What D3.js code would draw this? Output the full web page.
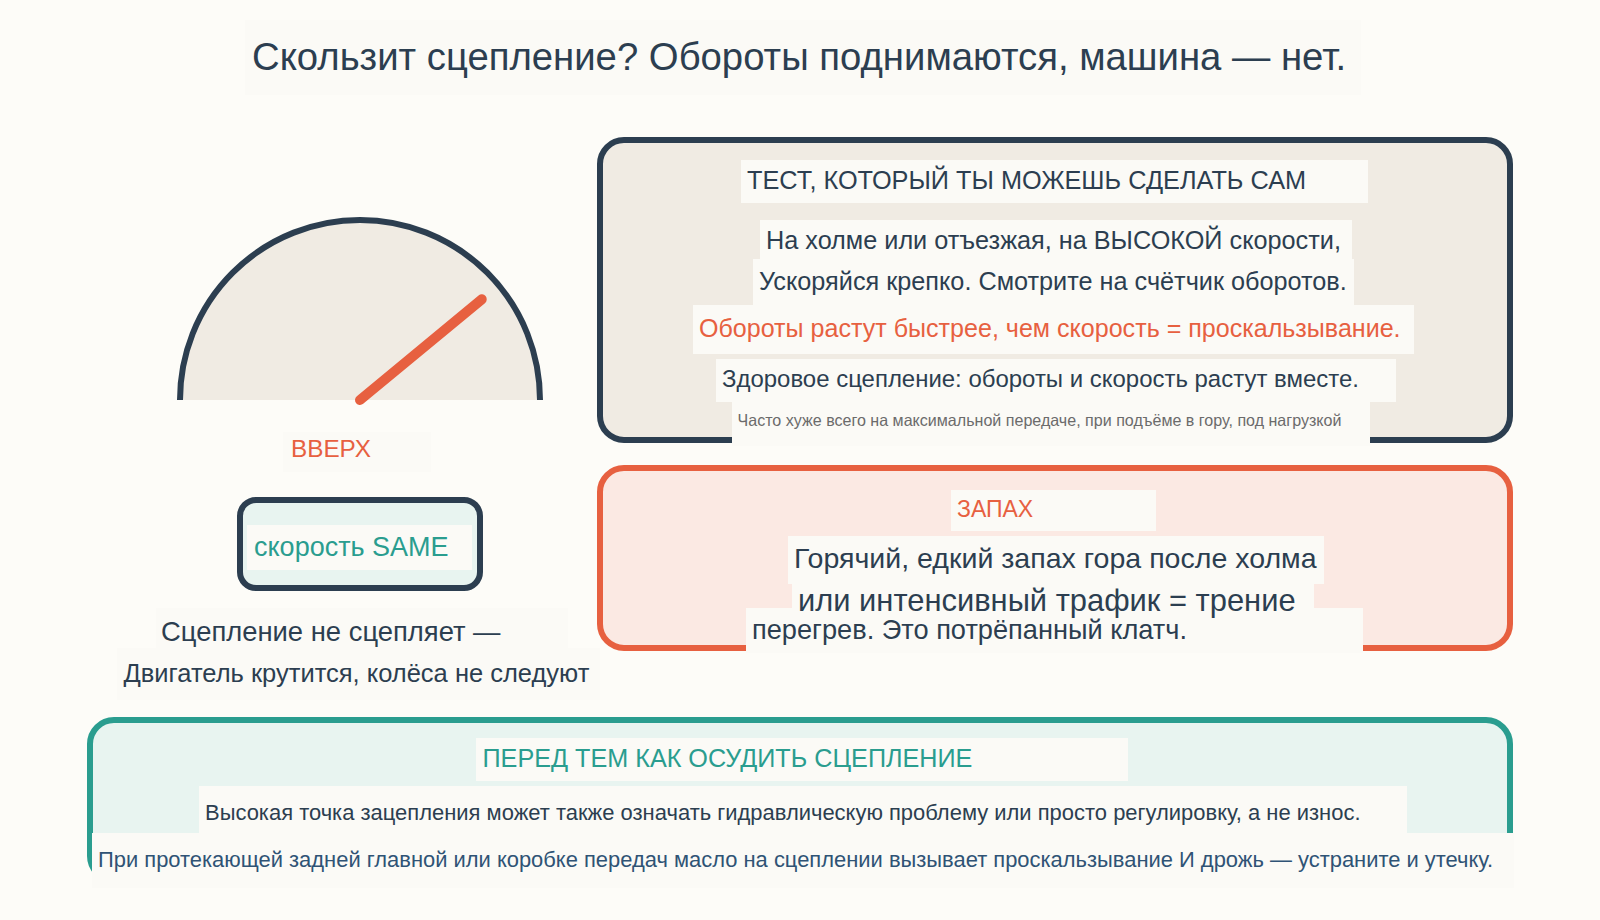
<!DOCTYPE html>
<html><head><meta charset="utf-8">
<script src="https://cdn.jsdelivr.net/npm/d3@7/dist/d3.min.js"></script>
<style>html,body{margin:0;padding:0;background:#FDFCF8}svg{display:block}text{font-family:"Liberation Sans",Arial,sans-serif}</style>
</head><body><svg id="c" width="1600" height="920"></svg>
<script>
// ---- content ----
const titleText = "Скользит сцепление? Обороты поднимаются, машина — нет.";
const gaugeLabels = ["ВВЕРХ", "скорость SAME", "Сцепление не сцепляет —", "Двигатель крутится, колёса не следуют"];
const testLines = ["ТЕСТ, КОТОРЫЙ ТЫ МОЖЕШЬ СДЕЛАТЬ САМ", "На холме или отъезжая, на ВЫСОКОЙ скорости,", "Ускоряйся крепко. Смотрите на счётчик оборотов.", "Обороты растут быстрее, чем скорость = проскальзывание.", "Здоровое сцепление: обороты и скорость растут вместе.", "Часто хуже всего на максимальной передаче, при подъёме в гору, под нагрузкой"];
const smellLines = ["ЗАПАХ", "Горячий, едкий запах гора после холма", "или интенсивный трафик = трение", "перегрев. Это потрёпанный клатч."];
const beforeLines = ["ПЕРЕД ТЕМ КАК ОСУДИТЬ СЦЕПЛЕНИЕ", "Высокая точка зацепления может также означать гидравлическую проблему или просто регулировку, а не износ.", "При протекающей задней главной или коробке передач масло на сцеплении вызывает проскальзывание И дрожь — устраните и утечку."];
const needleReading = [78];

// ---- layout and style ----
const C = {bg:"#FDFCF8", halo:"#FBFAF6", ink:"#2C3E50", coral:"#E76040", teal:"#2A9D8F", cream:"#F0EBE3", coralL:"#FBE9E3", tealL:"#E8F4F0", grey:"#6B6B6B", blue:"#2F5375"};
const panels = [
 {x:600,y:140,w:910,h:300,r:24,fill:C.cream,stroke:C.ink},
 {x:600,y:468,w:910,h:180,r:24,fill:C.coralL,stroke:C.coral},
 {x:90,y:720,w:1420,h:160,r:24,fill:C.tealL,stroke:C.teal},
 {x:240,y:500,w:240,h:88,r:16,fill:C.tealL,stroke:C.ink}
];
// bx,by,bx2,by2 = text backdrop; x,y = text start/baseline
const T = (text,x,y,size,fill,bx,by,bx2,by2)=>({text,x,y,size,fill,bx,by,bw:bx2-bx,bh:by2-by});
const labels = [
 T(titleText,252,70,38.3,C.ink,245,20,1361,95),
 T(gaugeLabels[0],291,457,24.3,C.coral,283,432,431,472),
 T(gaugeLabels[1],254,556,27,C.teal,247,525,472,570),
 T(gaugeLabels[2],161,641,27.4,C.ink,156,608,568,648),
 T(gaugeLabels[3],123.5,682,25.5,C.ink,117,648,600,700),
 T(testLines[0],747,189,25.3,C.ink,741,160,1368,203),
 T(testLines[1],766,249,25.25,C.ink,760,220,1352,259),
 T(testLines[2],759,290,25.26,C.ink,753,259,1354,305),
 T(testLines[3],699,337,25.07,C.coral,693,305,1414,354),
 T(testLines[4],722,387,23.96,C.ink,716,359,1396,402),
 T(testLines[5],737.5,426,16.07,C.grey,732,402,1370,446),
 T(smellLines[0],957,517,23,C.coral,951,490,1156,531),
 T(smellLines[1],794,568,28.56,C.ink,788,536,1324,584),
 T(smellLines[2],798,611,30.9,C.ink,792,584,1314,608),
 T(smellLines[3],752,639,27.2,C.ink,746,608,1363,653),
 T(beforeLines[0],482.5,767,25.2,C.teal,476,738,1128,781),
 T(beforeLines[1],205,820,21.96,C.ink,199,786,1407,833),
 T(beforeLines[2],98,867,21.93,C.blue,92,833,1514,888)
];
const gauge = {cx:360,cy:400,r:180,needle:158};

// ---- draw ----
const svg = d3.select("#c");
svg.append("rect").attr("width",1600).attr("height",920).attr("fill",C.bg);
svg.append("g").selectAll("rect").data(panels).join("rect")
  .attr("x",d=>d.x).attr("y",d=>d.y).attr("width",d=>d.w).attr("height",d=>d.h).attr("rx",d=>d.r)
  .attr("fill",d=>d.fill).attr("stroke",d=>d.stroke).attr("stroke-width",6);

const p = d3.path(); p.arc(gauge.cx,gauge.cy,gauge.r,Math.PI,0);
svg.append("path").attr("d",p.toString()).attr("fill",C.cream).attr("stroke",C.ink).attr("stroke-width",6);
const angle = d3.scaleLinear().domain([0,100]).range([-Math.PI/2,Math.PI/2]);
svg.append("g").selectAll("line").data(needleReading).join("line")
  .attr("x1",gauge.cx).attr("y1",gauge.cy)
  .attr("x2",d=>gauge.cx+gauge.needle*Math.sin(angle(d)))
  .attr("y2",d=>gauge.cy-gauge.needle*Math.cos(angle(d)))
  .attr("stroke",C.coral).attr("stroke-width",10).attr("stroke-linecap","round");

svg.append("g").selectAll("rect").data(labels).join("rect")
  .attr("x",d=>d.bx).attr("y",d=>d.by).attr("width",d=>d.bw).attr("height",d=>d.bh).attr("fill",C.halo);
svg.append("g").selectAll("text").data(labels).join("text")
  .attr("x",d=>d.x).attr("y",d=>d.y).attr("font-size",d=>d.size).attr("fill",d=>d.fill).text(d=>d.text);
</script></body></html>
